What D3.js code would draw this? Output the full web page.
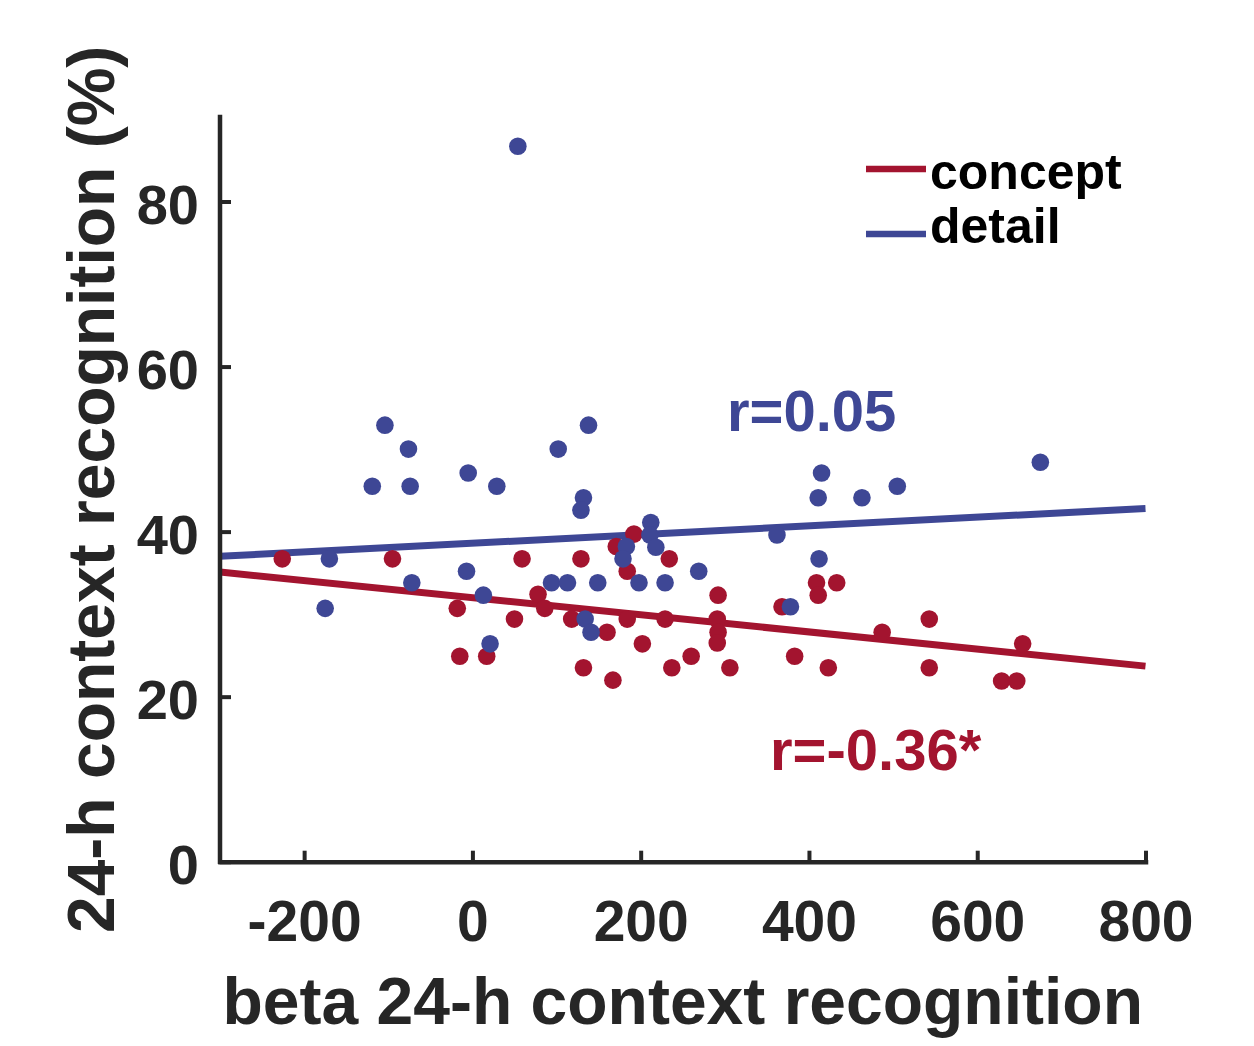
<!DOCTYPE html>
<html>
<head>
<meta charset="utf-8">
<script src="https://cdn.jsdelivr.net/npm/d3@7"></script>
<style>
  html, body { margin: 0; padding: 0; background: #fff; }
  svg { display: block; font-family: "Liberation Sans", Arial, Helvetica, sans-serif; font-weight: bold; }
</style>
</head>
<body>
<svg id="chart" width="1254" height="1046"></svg>
<script>
// beta of 24-h context recognition vs. recognition score, one point per subject
const conceptX = [-226, -95, 59, -18, 50, -15, 17, 78, 86, 129, 192, 171, 184, 234, 118, 160, 184, 229, 291, 292,
                  291, 202, 292, 260, 132, 237, 306, 167, 368, 383, 423, 409, 411, 433, 487, 543, 543, 654, 629, 647];
const conceptY = [36.7, 36.7, 36.7, 30.7, 29.4, 24.9, 24.9, 32.4, 30.7, 36.7, 39.7, 38.2, 35.2, 36.7, 29.4, 27.8, 29.4, 29.4, 29.4, 27.8,
                  26.5, 26.4, 32.3, 24.9, 23.5, 23.5, 23.5, 22.0, 30.9, 24.9, 23.5, 33.8, 32.3, 33.8, 27.8, 29.4, 23.5, 26.4, 21.9, 21.9];

const detailX = [54, -104, -76, -119, -74, -5, 29, 102, 138, 132, 129, 212, 211, 183, 179, 218, 362, 415, 411, 463,
                 505, 675, 412, 269, 94, 113, 149, 198, 229, 134, 141, 378, -170, -175, -72, -7, 13, 21];
const detailY = [86.7, 52.9, 50.0, 45.5, 45.5, 47.1, 45.5, 50.0, 52.9, 44.1, 42.6, 41.1, 39.6, 38.2, 36.7, 38.1, 39.6, 47.1, 44.1, 44.1,
                 45.5, 48.4, 36.7, 35.2, 33.8, 33.8, 33.8, 33.8, 33.8, 29.4, 27.8, 30.9, 36.7, 30.7, 33.8, 35.2, 32.3, 26.4];

// fitted trend lines: value at x = -300 and at x = 800
const fitX = [-300, 800];
const conceptFit = [35.1, 23.7];
const detailFit = [37.0, 42.8];

const xTicks = [-200, 0, 200, 400, 600, 800];
const yTicks = [0, 20, 40, 60, 80];
const seriesNames = ["concept", "detail"];
const rLabels = ["r=-0.36*", "r=0.05"];

const RED = "#A3142F";
const BLUE = "#3E4795";
const INK = "#262626";

const svg = d3.select("#chart");

const x = d3.scaleLinear().domain([-300, 800]).range([220, 1145.5]);
const y = d3.scaleLinear().domain([0, 90]).range([861.7, 119]);

const series = [
  { name: seriesNames[0], color: RED, pts: conceptX.map((v, i) => [v, conceptY[i]]), fit: conceptFit },
  { name: seriesNames[1], color: BLUE, pts: detailX.map((v, i) => [v, detailY[i]]), fit: detailFit }
];

// trend lines
svg.append("g").selectAll("line").data(series).join("line")
  .attr("x1", x(fitX[0])).attr("x2", x(fitX[1]))
  .attr("y1", d => y(d.fit[0])).attr("y2", d => y(d.fit[1]))
  .attr("stroke", d => d.color).attr("stroke-width", 7);

// points
series.forEach(s => {
  svg.append("g").selectAll("circle").data(s.pts).join("circle")
    .attr("cx", d => x(d[0])).attr("cy", d => y(d[1])).attr("r", 8.8)
    .attr("fill", s.color);
});

// axes
const xAxis = svg.append("g").attr("transform", `translate(0,${y(0)})`)
  .call(d3.axisBottom(x).tickValues(xTicks).tickFormat(d => String(d)).tickSizeInner(-11).tickSizeOuter(0));
const yAxis = svg.append("g").attr("transform", `translate(${x(-300)},0)`)
  .call(d3.axisLeft(y).tickValues(yTicks).tickFormat(d => String(d)).tickSizeInner(-11).tickSizeOuter(0));

[xAxis, yAxis].forEach(a => {
  a.select(".domain").attr("stroke", INK).attr("stroke-width", 4.5).attr("stroke-linecap", "square");
  a.selectAll(".tick line").attr("stroke", INK).attr("stroke-width", 4);
  a.selectAll(".tick text").attr("fill", INK).style("font-size", "57px")
    .style("font-family", "'Liberation Sans', Arial, sans-serif").style("font-weight", "bold");
});
yAxis.select(".domain").attr("d", `M0,${y(0)}V117`);
xAxis.selectAll(".tick text").attr("y", 79).attr("dy", null);
yAxis.selectAll(".tick text").attr("x", -21).attr("dy", "0.39em").style("font-size", "56px");

// axis titles
svg.append("text").attr("x", (x.range()[0] + x.range()[1]) / 2).attr("y", 1024)
  .attr("text-anchor", "middle").attr("fill", INK).style("font-size", "66px")
  .text("beta 24-h context recognition");
svg.append("text").attr("transform", `translate(114,${(y(0) + 117) / 2}) rotate(-90)`)
  .attr("text-anchor", "middle").attr("fill", INK).style("font-size", "66px")
  .text("24-h context recognition (%)");

// correlation labels
svg.append("text").attr("x", 727).attr("y", 431).attr("fill", BLUE).style("font-size", "58px").text(rLabels[1]);
svg.append("text").attr("x", 770).attr("y", 770).attr("fill", RED).style("font-size", "58px").text(rLabels[0]);

// legend
const legendRows = [{ s: series[0], ly: 169, ty: 189 }, { s: series[1], ly: 234, ty: 243 }];
const lg = svg.append("g");
lg.selectAll("line").data(legendRows).join("line")
  .attr("x1", 866).attr("x2", 926).attr("y1", d => d.ly).attr("y2", d => d.ly)
  .attr("stroke", d => d.s.color).attr("stroke-width", 6.5);
lg.selectAll("text").data(legendRows).join("text")
  .attr("x", 930).attr("y", d => d.ty).attr("fill", "#000").style("font-size", "50px")
  .text(d => d.s.name);
</script>
</body>
</html>
